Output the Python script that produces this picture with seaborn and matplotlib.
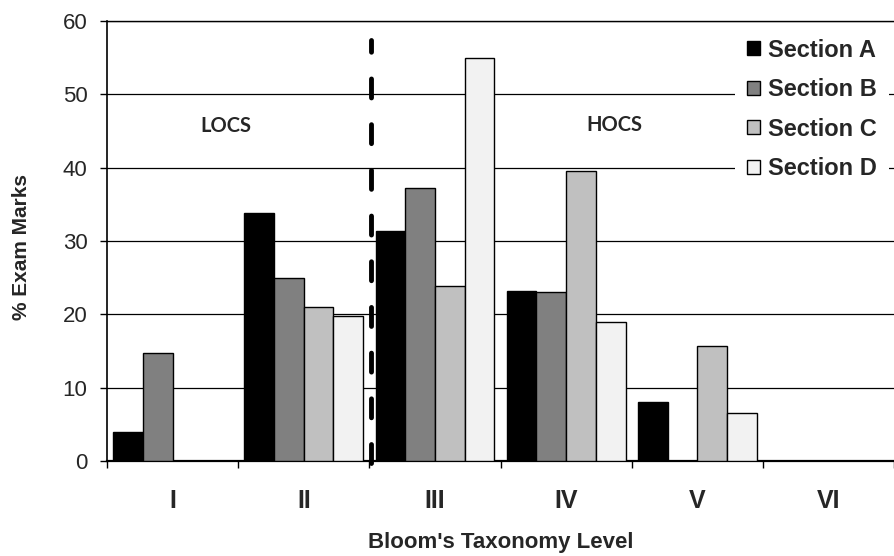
import pandas as pd
import matplotlib
matplotlib.use("Agg")
import matplotlib.pyplot as plt
import matplotlib.patches as mpatches
import seaborn as sns

# values
levels = ["I", "II", "III", "IV", "V", "VI"]
sections = ["Section A", "Section B", "Section C", "Section D"]
section_a = [4.0, 33.8, 31.4, 23.2, 8.1, 0]
section_b = [14.7, 25.0, 37.2, 23.0, 0, 0]
section_c = [0, 21.0, 23.9, 39.6, 15.7, 0]
section_d = [0, 19.8, 54.9, 18.9, 6.6, 0]
colors = ["#000000", "#808080", "#C0C0C0", "#F2F2F2"]

rows = []
for sec, vals in zip(sections, [section_a, section_b, section_c, section_d]):
    for lvl, v in zip(levels, vals):
        rows.append({"level": lvl, "section": sec, "value": v})
df = pd.DataFrame(rows)

sns.set_style("white")
plt.rcParams['font.family'] = ['Liberation Sans', 'DejaVu Sans']

fig = plt.figure(figsize=(8.94, 5.56), dpi=100)
ax = fig.add_axes([0.1197, 0.1709, 0.8803, 0.7914])

sns.barplot(data=df, x="level", y="value", hue="section", order=levels,
            hue_order=sections, palette=colors, saturation=1, width=0.906,
            gap=0, edgecolor="black", linewidth=1, errorbar=None,
            legend=False, ax=ax, zorder=3)

# grid lines behind bars
ax.set_axisbelow(True)
ax.yaxis.grid(True, color="black", linewidth=0.9)
ax.xaxis.grid(False)

ax.set_ylim(0, 60)
ax.set_yticks(range(0, 61, 10))
ax.set_xlim(-0.5, 5.42)

# category boundaries as ticks, labels at centres
ax.set_xticks([i - 0.5 for i in range(7)], minor=True)
ax.tick_params(axis="x", which="major", length=0, pad=20, labelsize=18)
ax.tick_params(axis="x", which="minor", length=5, width=1, direction="out",
               bottom=True, color="black")
ax.tick_params(axis="y", which="major", length=5, width=1, direction="out",
               left=True, color="black", pad=9, labelsize=16)
for lab in ax.get_xticklabels():
    lab.set_fontweight("bold")

for side in ["top", "left", "bottom"]:
    ax.spines[side].set_visible(True)
    ax.spines[side].set_color("black")
ax.spines["top"].set_linewidth(1)
ax.spines["left"].set_linewidth(1.2)
ax.spines["bottom"].set_linewidth(1.6)
ax.spines["right"].set_visible(False)

ax.set_xlabel("Bloom's Taxonomy Level", fontsize=16, fontweight="bold", labelpad=14)
ax.set_ylabel("% Exam Marks", fontsize=15, fontweight="bold")
ax.yaxis.set_label_coords(-0.0966, 0.486)

# LOCS / HOCS divider
ax.plot([1.515, 1.515], [-0.3, 57.4], color="black", linewidth=3.5,
        dashes=(3.9, 5.5), dash_capstyle="round", clip_on=False, zorder=4)
ax.text(0.41, 45.7, "LOCS", fontsize=14.5, fontweight="bold", family="Lato",
        ha="center", va="center")
ax.text(3.365, 45.8, "HOCS", fontsize=14.5, fontweight="bold", family="Lato",
        ha="center", va="center")

handles = [mpatches.Patch(facecolor=c, edgecolor="black", linewidth=1, label=s)
           for c, s in zip(colors, sections)]
leg = ax.legend(handles=handles, loc="upper left", bbox_to_anchor=(0.798, 0.9866),
                prop={"size": 17, "weight": "bold"}, handlelength=0.55,
                handleheight=0.55, handletextpad=0.34, labelspacing=0.7,
                borderpad=0.5, borderaxespad=0, frameon=True, fancybox=False,
                framealpha=1)
leg.get_frame().set_edgecolor("none")
leg.get_frame().set_facecolor("white")
leg.set_zorder(5)

plt.savefig("out.png", dpi=100)
